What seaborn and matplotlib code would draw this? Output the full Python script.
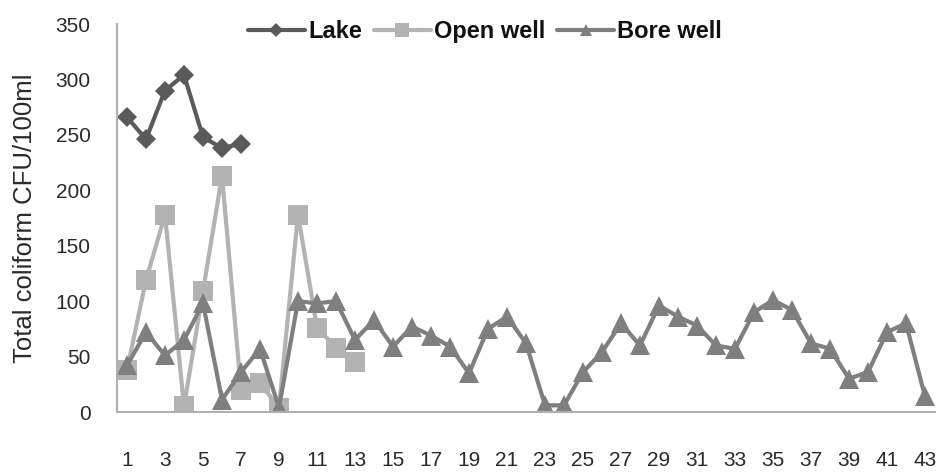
import matplotlib
matplotlib.use('Agg')
import matplotlib.pyplot as plt
import numpy as np
import pandas as pd
import seaborn as sns

SITES = list(range(1, 44))
LAKE = [266, 246, 290, 304, 248, 238, 242]
OPEN_WELL = [38, 119, 178, 5, 109, 213, 20, 26, 4, 178, 76, 58, 45]
BORE_WELL = [42, 72, 51, 65, 98, 11, 36, 57, 4, 100, 98, 100, 65, 83, 59,
             77, 69, 59, 35, 75, 86, 62, 6, 6, 36, 54, 80, 60, 96, 86,
             78, 60, 57, 90, 101, 92, 62, 57, 30, 36, 72, 80, 14]
X_TICKS = list(range(1, 44, 2))
Y_TICKS = list(range(0, 351, 50))
COLORS = {'Lake': '#5a5a5a', 'Open well': '#b3b3b3', 'Bore well': '#7f7f7f'}
MARKERS = {'Lake': 'D', 'Open well': 's', 'Bore well': '^'}
SIZES = {'Lake': 10.5, 'Open well': 15, 'Bore well': 14}


def build_frame() -> pd.DataFrame:
    parts = []
    for name, values in [('Lake', LAKE), ('Open well', OPEN_WELL), ('Bore well', BORE_WELL)]:
        parts.append(pd.DataFrame({'site': SITES[:len(values)], 'cfu': values, 'source': name}))
    return pd.concat(parts, ignore_index=True)


def main():
    sns.set_style('white')
    plt.rcParams['font.family'] = ['Liberation Sans', 'DejaVu Sans']
    df = build_frame()

    fig = plt.figure(figsize=(9.39, 4.72), dpi=100)
    ax = fig.add_axes([117 / 939, 60 / 472, 818 / 939, 388 / 472])
    for name in ['Lake', 'Open well', 'Bore well']:
        sub = df[df['source'] == name]
        sns.lineplot(ax=ax, data=sub, x='site', y='cfu', color=COLORS[name], marker=MARKERS[name],
                     markersize=SIZES[name], markeredgewidth=0, linewidth=3, label=name)

    ax.set_xlim(1 - 10 / 19, 43 + 10 / 19)
    ax.set_ylim(0, 350)
    ax.set_xticks(X_TICKS)
    ax.set_yticks(Y_TICKS)
    ax.tick_params(axis='both', length=0, labelsize=15, colors='#2a2a2a')
    ax.tick_params(axis='x', pad=28)
    ax.tick_params(axis='y', pad=19)
    ax.set_xlabel('')
    ax.set_ylabel('Total coliform CFU/100ml', fontsize=18.5, color='#2a2a2a', labelpad=13)
    for side in ['top', 'right']:
        ax.spines[side].set_visible(False)
    for side in ['left', 'bottom']:
        ax.spines[side].set_color('#b0b0b0')
        ax.spines[side].set_linewidth(1.5)

    leg = ax.legend(loc='center', bbox_to_anchor=(0.45, 0.98), ncol=3, frameon=False,
                    handlelength=2.4, handletextpad=0.15, columnspacing=0.5, markerscale=0.65,
                    prop={'size': 17, 'weight': 'bold'})
    for text in leg.get_texts():
        text.set_color('#111111')

    fig.savefig('out.png', dpi=100)


if __name__ == '__main__':
    main()
